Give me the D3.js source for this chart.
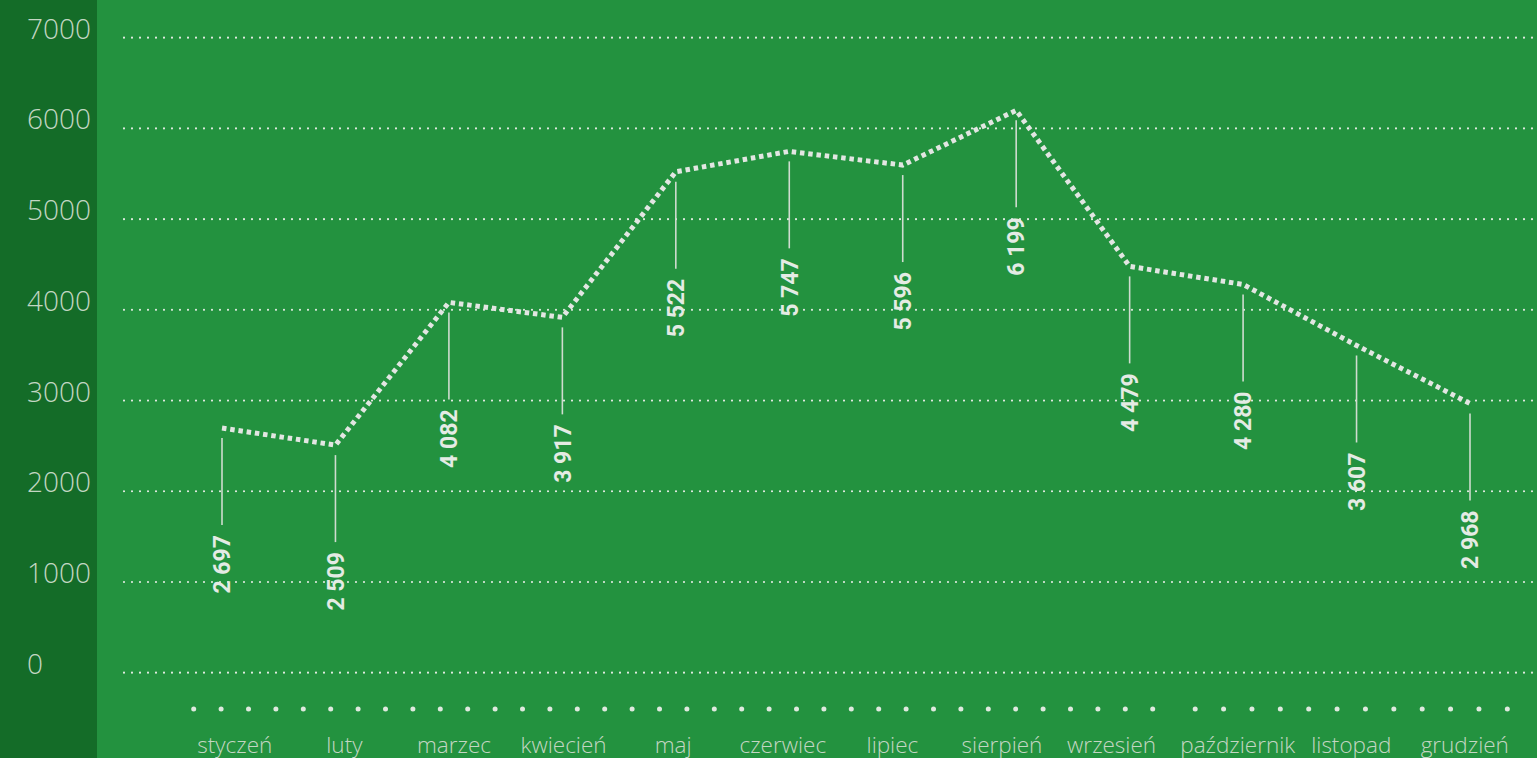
<!DOCTYPE html>
<html lang="pl">
<head>
<meta charset="utf-8">
<script src="https://cdn.jsdelivr.net/npm/d3@7"></script>
<style>
  html, body { margin: 0; padding: 0; background: #23923f; overflow: hidden; }
  svg { display: block; }
</style>
</head>
<body>
<svg id="chart" width="1537" height="758"></svg>
<script>
// Monthly totals
const months = ["styczeń", "luty", "marzec", "kwiecień", "maj", "czerwiec", "lipiec",
                "sierpień", "wrzesień", "październik", "listopad", "grudzień"];
const values = [2697, 2509, 4082, 3917, 5522, 5747, 5596, 6199, 4479, 4280, 3607, 2968];
const yTicks = [0, 1000, 2000, 3000, 4000, 5000, 6000, 7000];

const W = 1537, H = 758;
const svg = d3.select("#chart");

const colors = {
  bg: "#23923f",
  panel: "#146c28",
  axisText: "#c3d6c3",
  grid: "#dfe9df",
  line: "#e2e6e2",
  label: "#e4ebe4",
  stem: "#cfdccf"
};

svg.append("rect").attr("width", W).attr("height", H).attr("fill", colors.bg);
svg.append("rect").attr("width", 97).attr("height", H).attr("fill", colors.panel);

const x = d3.scalePoint().domain(months).range([222, 1470]);
const y = d3.scaleLinear().domain([0, 7000]).range([672.7, 37.7]);

// Horizontal dotted gridlines
svg.append("g")
  .selectAll("line")
  .data(yTicks)
  .join("line")
  .attr("x1", 124).attr("x2", W)
  .attr("y1", d => y(d)).attr("y2", d => y(d))
  .attr("stroke", colors.grid)
  .attr("stroke-width", 2.2)
  .attr("stroke-linecap", "round")
  .attr("stroke-dasharray", "0 8");

// Y axis labels in the dark side panel
svg.append("g")
  .selectAll("text")
  .data(yTicks)
  .join("text")
  .attr("x", 27)
  .attr("y", d => y(d) + 1)
  .attr("fill", colors.axisText)
  .attr("font-family", "'Open Sans', 'Noto Sans', sans-serif")
  .attr("font-weight", 300)
  .attr("font-size", 28)
  .text(d => d);

// Dotted line through the monthly values
const line = d3.line().x((d, i) => x(months[i])).y(d => y(d));
svg.append("path")
  .datum(values)
  .attr("d", line)
  .attr("fill", "none")
  .attr("stroke", colors.line)
  .attr("stroke-width", 5)
  .attr("stroke-dasharray", "4.5 3.8");

// Value stems and rotated labels
const fmt = d3.formatLocale({ decimal: ",", thousands: "\u00a0", grouping: [3], currency: ["", " zł"] }).format(",d");

const ann = svg.append("g")
  .selectAll("g")
  .data(values.map((v, i) => ({ m: months[i], v })))
  .join("g");

ann.append("line")
  .attr("x1", d => x(d.m)).attr("x2", d => x(d.m))
  .attr("y1", d => y(d.v) + 10)
  .attr("y2", d => y(d.v) + 97)
  .attr("stroke", colors.stem)
  .attr("stroke-width", 1.6);

ann.append("text")
  .attr("transform", d => `translate(${x(d.m)},${y(d.v) + 107}) rotate(-90)`)
  .attr("text-anchor", "end")
  .attr("dy", "0.36em")
  .attr("fill", colors.label)
  .attr("font-family", "Roboto, 'Noto Sans', sans-serif")
  .attr("font-weight", 700)
  .attr("font-size", 23)
  .text(d => fmt(d.v));

// Month cells along the bottom: dotted rule above centred labels
const cells = months.map((m, i) => {
  const w = i < 9 ? 109.6 : 113.5;
  const x0 = i < 9 ? 180 + i * 109.6 : 1181 + (i - 9) * 113.5;
  return { m, x0, w };
});

const cellG = svg.append("g")
  .selectAll("g")
  .data(cells)
  .join("g");

cellG.selectAll("circle")
  .data(d => d3.range(4).map(k => d.x0 + d.w * (0.125 + 0.25 * k)))
  .join("circle")
  .attr("cx", d => d)
  .attr("cy", 709)
  .attr("r", 2.5)
  .attr("fill", colors.grid);

cellG.append("text")
  .attr("x", d => d.x0 + d.w / 2)
  .attr("y", 753)
  .attr("text-anchor", "middle")
  .attr("fill", colors.axisText)
  .attr("font-family", "'Open Sans', 'Noto Sans', sans-serif")
  .attr("font-weight", 300)
  .attr("font-size", 22.5)
  .text(d => d.m);
</script>
</body>
</html>
